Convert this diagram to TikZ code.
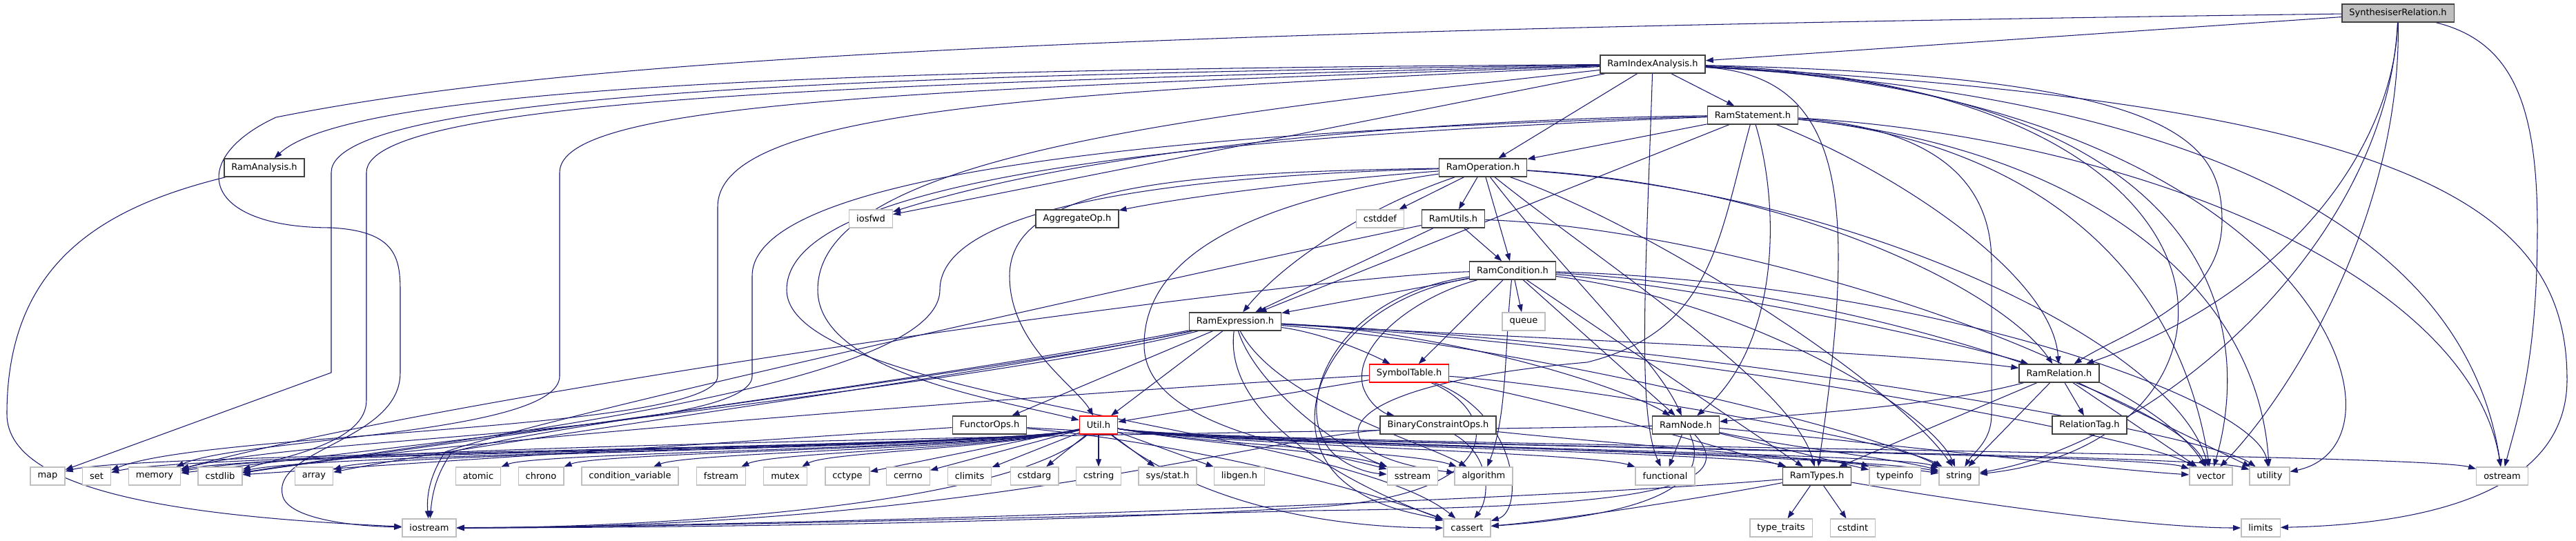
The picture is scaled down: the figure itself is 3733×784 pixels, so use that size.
\documentclass[tikz,border=0pt]{standalone}
\usepackage{fontspec}
\usepackage{tikz}
\usetikzlibrary{positioning, arrows.meta}
\newfontfamily\dejavu{DejaVu Sans}
\definecolor{edgeblue}{HTML}{191970}
\definecolor{rootgrey}{HTML}{BFBFBF}
\definecolor{sysgrey}{HTML}{BFBFBF}
\definecolor{boxline}{HTML}{404040}
\pgfdeclarelayer{back}
\pgfsetlayers{back,main}
\tikzset{
  hdr/.style={rectangle, draw=boxline, fill=white, line width=0.8pt, minimum height=0.52cm,
    inner xsep=0.21cm, inner ysep=0pt, font=\dejavu\fontsize{7.4pt}{8pt}\selectfont},
  sys/.style={hdr, draw=sysgrey},
  trunc/.style={hdr, draw=red},
  root/.style={hdr, fill=rootgrey},
  dep/.style={draw=edgeblue, line width=0.6pt, -{Triangle[length=0.22cm,width=0.16cm]}}
}
\begin{document}
\begin{tikzpicture}[x=0.02cm, y=-0.02cm]
  \useasboundingbox (0,0) rectangle (3733,784);

  % project headers
  \node[root] (SR) at (3475,19) {SynthesiserRelation.h};
  \node[hdr] (RIA) at (2395,93) {RamIndexAnalysis.h};
  \node[hdr] (RSt) at (2540,167) {RamStatement.h};
  \node[hdr] (ROp) at (2149,243) {RamOperation.h};
  \node[hdr] (RA) at (383,243) {RamAnalysis.h};
  \node[sys] (iosfwd) at (1262,317) {iosfwd};
  \node[hdr] (AggOp) at (1561,317) {AggregateOp.h};
  \node[sys] (cstddef) at (2000,317) {cstddef};
  \node[hdr] (RU) at (2106,317) {RamUtils.h};
  \node[hdr] (RC) at (2192,392) {RamCondition.h};
  \node[sys] (queue) at (2208,466) {queue};
  \node[hdr] (RE) at (1790,466) {RamExpression.h};
  \node[trunc] (ST) at (2042,541) {SymbolTable.h};
  \node[hdr] (RR) at (2984,541) {RamRelation.h};
  \node[hdr] (FO) at (1434,616) {FunctorOps.h};
  \node[trunc] (Util) at (1592,616) {Util.h};
  \node[hdr] (BCO) at (2084,616) {BinaryConstraintOps.h};
  \node[hdr] (RN) at (2443,616) {RamNode.h};
  \node[hdr] (RTag) at (3028,616) {RelationTag.h};
  \node[hdr] (RT) at (2633,690) {RamTypes.h};

  % system headers
  \foreach \nm/\xx/\txt in {map/69/map, set/140/set, memory/224/memory, cstdlib/319/cstdlib,
      array/455/array, atomic/693/atomic, chrono/784/chrono, condvar/913/condition\_variable,
      fstream/1045/fstream, mutex/1138/mutex, cctype/1228/cctype, cerrno/1316/cerrno,
      climits/1405/climits, cstdarg/1499/cstdarg, cstring/1592/cstring, sysstat/1692/{sys/stat.h},
      libgen/1796/libgen.h, sstream/2047/sstream, algorithm/2150/algorithm,
      functional/2413/functional, typeinfo/2746/typeinfo, string/2839/string,
      vector/3204/vector, utility/3289/utility, ostream/3626/ostream}
    \node[sys] (\nm) at (\xx,690) {\txt};
  \foreach \nm/\xx/\txt in {iostream/622/iostream, cassert/2126/cassert,
      typetraits/2581/type\_traits, cstdint/2685/cstdint, limits/3276/limits}
    \node[sys] (\nm) at (\xx,765) {\txt};

  \begin{pgfonlayer}{back}
  % SynthesiserRelation.h
  \draw[dep] (SR) -- (RIA);
  \draw[dep] (SR) .. controls (3470,200) and (3330,420) .. (RR);
  \draw[dep] (SR) .. controls (3460,350) and (3130,640) .. (string);
  \draw[dep] (SR) .. controls (3480,300) and (3330,560) .. (vector);
  \draw[dep] (SR) .. controls (3640,60) and (3677,150) .. (3677,330) .. controls (3677,520) and (3650,600) .. (ostream);
  \draw[dep] (SR) .. controls (1500,45) and (800,90) .. (400,170) .. controls (270,230) and (290,330) .. (480,330)
    .. controls (570,335) and (580,370) .. (580,420) -- (580,540) .. controls (580,640) and (390,650) .. (410,720)
    .. controls (420,750) and (500,762) .. (iostream);

  % RamIndexAnalysis.h
  \draw[dep] (RIA) -- (RSt);
  \draw[dep] (RIA) -- (ROp);
  \draw[dep] (RIA) -- (iosfwd);
  \draw[dep] (RIA) .. controls (1400,100) and (520,115) .. (RA);
  \draw[dep] (RIA) .. controls (1400,108) and (480,125) .. (480,250) -- (480,540) -- (map);
  \draw[dep] (RIA) .. controls (1300,120) and (531,140) .. (531,250) -- (531,580) .. controls (531,640) and (420,660) .. (cstdlib);
  \draw[dep] (RIA) .. controls (1300,130) and (811,150) .. (811,250) -- (811,545) .. controls (811,630) and (350,635) .. (memory);
  \draw[dep] (RIA) .. controls (1500,135) and (1040,160) .. (1040,300) -- (1040,545) .. controls (1040,625) and (300,625) .. (set);
  \draw[dep] (RIA) .. controls (1700,170) and (1185,230) .. (1185,420) .. controls (1185,540) and (1450,580) .. (Util);
  \draw[dep] (RIA) .. controls (2385,400) and (2372,600) .. (functional);
  \draw[dep] (RIA) .. controls (2680,110) and (2690,300) .. (RT);
  \draw[dep] (RIA) .. controls (3150,110) and (3220,200) .. (3220,320) .. controls (3220,440) and (3080,480) .. (RR);
  \draw[dep] (RIA) .. controls (3300,120) and (3300,640) .. (string);
  \draw[dep] (RIA) .. controls (3250,130) and (3260,500) .. (vector);
  \draw[dep] (RIA) .. controls (3350,140) and (3520,640) .. (utility);
  \draw[dep] (RIA) .. controls (3400,150) and (3590,450) .. (ostream);
  \draw[dep] (RIA) .. controls (3500,150) and (3720,300) .. (3720,550) .. controls (3720,720) and (3500,760) .. (limits);

  % RamAnalysis.h
  \draw[dep] (RA) .. controls (150,300) and (10,380) .. (10,600) .. controls (10,720) and (300,750) .. (iostream);

  % RamStatement.h
  \draw[dep] (RSt) -- (ROp);
  \draw[dep] (RSt) -- (RE);
  \draw[dep] (RSt) .. controls (2580,300) and (2580,500) .. (RN);
  \draw[dep] (RSt) .. controls (2750,250) and (2975,400) .. (RR);
  \draw[dep] (RSt) .. controls (2100,172) and (1600,210) .. (iosfwd);
  \draw[dep] (RSt) .. controls (1700,190) and (1090,250) .. (1090,400) -- (1090,545) .. controls (1090,630) and (450,630) .. (memory);
  \draw[dep] (RSt) .. controls (1700,200) and (1140,260) .. (1140,420) .. controls (1140,580) and (1950,620) .. (cassert);
  \draw[dep] (RSt) .. controls (2490,350) and (2480,480) .. (2300,525) .. controls (1900,560) and (1900,660) .. (algorithm);
  \draw[dep] (RSt) .. controls (2800,185) and (2886,260) .. (2886,380) -- (2886,600) .. controls (2886,640) and (2860,655) .. (string);
  \draw[dep] (RSt) .. controls (2900,200) and (3150,350) .. (vector);
  \draw[dep] (RSt) .. controls (3000,210) and (3270,400) .. (utility);
  \draw[dep] (RSt) .. controls (3100,200) and (3580,400) .. (ostream);

  % RamOperation.h
  \draw[dep] (ROp) -- (cstddef);
  \draw[dep] (ROp) -- (RU);
  \draw[dep] (ROp) -- (RC);
  \draw[dep] (ROp) .. controls (1900,262) and (1720,285) .. (AggOp);
  \draw[dep] (ROp) .. controls (1980,300) and (1860,380) .. (RE);
  \draw[dep] (ROp) .. controls (2270,400) and (2400,520) .. (RN);
  \draw[dep] (ROp) .. controls (2320,380) and (2600,560) .. (RT);
  \draw[dep] (ROp) .. controls (2600,270) and (2900,420) .. (RR);
  \draw[dep] (ROp) .. controls (2700,280) and (3150,500) .. (vector);
  \draw[dep] (ROp) .. controls (2400,330) and (2750,560) .. (string);
  \draw[dep] (ROp) .. controls (1700,250) and (1463,270) .. (1463,400) .. controls (1463,500) and (1560,560) .. (Util);
  \draw[dep] (ROp) .. controls (1700,255) and (1362,300) .. (1362,420) .. controls (1362,560) and (700,630) .. (cstdlib);
  \draw[dep] (ROp) .. controls (1750,300) and (1658,400) .. (1658,500) .. controls (1658,620) and (1900,650) .. (sstream);

  % RamUtils.h
  \draw[dep] (RU) -- (RC);
  \draw[dep] (RU) -- (RE);
  \draw[dep] (RU) .. controls (1800,380) and (800,600) .. (645,655) .. controls (622,690) and (618,720) .. (iostream);
  \draw[dep] (RU) .. controls (2500,330) and (3100,520) .. (vector);

  % RamCondition.h
  \draw[dep] (RC) -- (queue);
  \draw[dep] (RC) -- (RE);
  \draw[dep] (RC) -- (ST);
  \draw[dep] (RC) -- (RN);
  \draw[dep] (RC) -- (RT);
  \draw[dep] (RC) .. controls (2050,430) and (1960,500) .. (1975,560) .. controls (1985,590) and (2010,600) .. (BCO);
  \draw[dep] (RC) .. controls (2180,500) and (2185,600) .. (algorithm);
  \draw[dep] (RC) .. controls (1930,430) and (1870,590) .. (1930,655) .. controls (1950,675) and (1980,685) .. (sstream);
  \draw[dep] (RC) .. controls (1920,440) and (1850,620) .. (1950,700) .. controls (2000,740) and (2060,745) .. (cassert);
  \draw[dep] (RC) .. controls (2500,420) and (2850,500) .. (RR);
  \draw[dep] (RC) .. controls (2550,440) and (2800,600) .. (string);
  \draw[dep] (RC) .. controls (2700,420) and (3150,580) .. (vector);
  \draw[dep] (RC) .. controls (2800,410) and (3270,580) .. (utility);
  \draw[dep] (RC) .. controls (1900,400) and (700,560) .. (memory);

  % RamExpression.h
  \draw[dep] (RE) -- (FO);
  \draw[dep] (RE) -- (Util);
  \draw[dep] (RE) .. controls (1900,480) and (1960,500) .. (ST);
  \draw[dep] (RE) .. controls (2100,480) and (2350,560) .. (RN);
  \draw[dep] (RE) .. controls (2300,495) and (2750,510) .. (RR);
  \draw[dep] (RE) .. controls (1500,540) and (900,610) .. (memory);
  \draw[dep] (RE) .. controls (1500,530) and (800,620) .. (cstdlib);
  \draw[dep] (RE) .. controls (1400,550) and (700,640) .. (array);
  \draw[dep] (RE) .. controls (1300,560) and (820,610) .. (655,655) .. controls (630,690) and (626,720) .. (iostream);
  \draw[dep] (RE) .. controls (1820,560) and (1940,650) .. (sstream);
  \draw[dep] (RE) .. controls (1850,580) and (2060,640) .. (algorithm);
  \draw[dep] (RE) .. controls (1770,620) and (2000,720) .. (cassert);
  \draw[dep] (RE) .. controls (2200,500) and (2700,620) .. (string);
  \draw[dep] (RE) .. controls (2400,500) and (3100,630) .. (vector);
  \draw[dep] (RE) .. controls (2500,500) and (3200,630) .. (utility);

  % SymbolTable.h
  \draw[dep] (ST) -- (Util);
  \draw[dep] (ST) .. controls (1700,560) and (700,630) .. (cstdlib);
  \draw[dep] (ST) .. controls (2250,580) and (2500,650) .. (RT);
  \draw[dep] (ST) .. controls (2200,600) and (2210,740) .. (cassert);
  \draw[dep] (ST) .. controls (2180,600) and (2180,720) .. (1900,735) .. controls (1500,760) and (900,765) .. (iostream);
  \draw[dep] (ST) .. controls (2300,560) and (2750,640) .. (string);

  % FunctorOps.h
  \draw[dep] (FO) -- (cstdlib);
  \draw[dep] (FO) .. controls (1700,640) and (1950,700) .. (cassert);
  \draw[dep] (FO) .. controls (1800,640) and (2700,660) .. (string);

  % BinaryConstraintOps.h
  \draw[dep] (BCO) .. controls (2160,660) and (2160,720) .. (cassert);
  \draw[dep] (BCO) .. controls (1800,640) and (1400,765) .. (iostream);
  \draw[dep] (BCO) .. controls (2300,640) and (2700,670) .. (string);

  % Util.h
  \foreach \dst/\cx in {map/200, set/280, memory/380, cstdlib/480, array/560, atomic/780,
      chrono/870, condvar/1000, fstream/1120, mutex/1200}
    \draw[dep] (Util) .. controls (1450,650) and (\cx,655) .. (\dst);
  \foreach \dst in {cctype, cerrno, climits, cstdarg, cstring, sysstat, libgen}
    \draw[dep] (Util) -- (\dst);
  \foreach \dst/\cx in {sstream/1950, algorithm/2050, functional/2300, RT/2520, typeinfo/2650,
      string/2750, vector/3100, utility/3180, ostream/3500}
    \draw[dep] (Util) .. controls (1750,645) and (\cx,655) .. (\dst);
  \draw[dep] (Util) .. controls (1450,740) and (900,765) .. (iostream);
  \draw[dep] (Util) .. controls (1750,740) and (1950,765) .. (cassert);

  % RamNode.h
  \draw[dep] (RN) -- (functional);
  \draw[dep] (RN) -- (typeinfo);
  \draw[dep] (RN) .. controls (2480,700) and (2400,745) .. (cassert);
  \draw[dep] (RN) .. controls (2540,720) and (2300,735) .. (1900,740) .. controls (1500,750) and (900,765) .. (iostream);
  \draw[dep] (RN) .. controls (2600,650) and (2750,665) .. (string);
  \draw[dep] (RN) .. controls (2700,640) and (3050,680) .. (vector);
  \draw[dep] (RN) .. controls (2200,622) and (500,640) .. (memory);

  % RamRelation.h
  \draw[dep] (RR) .. controls (2800,590) and (2600,600) .. (RN);
  \draw[dep] (RR) -- (RT);
  \draw[dep] (RR) -- (RTag);
  \draw[dep] (RR) -- (string);
  \draw[dep] (RR) -- (vector);
  \draw[dep] (RR) -- (utility);

  % RamTypes.h
  \draw[dep] (RT) -- (typetraits);
  \draw[dep] (RT) -- (cstdint);
  \draw[dep] (RT) .. controls (2450,725) and (2250,755) .. (cassert);
  \draw[dep] (RT) .. controls (2300,720) and (1300,760) .. (iostream);
  \draw[dep] (RT) .. controls (2800,720) and (3100,765) .. (limits);
  \end{pgfonlayer}
\end{tikzpicture}
\end{document}
